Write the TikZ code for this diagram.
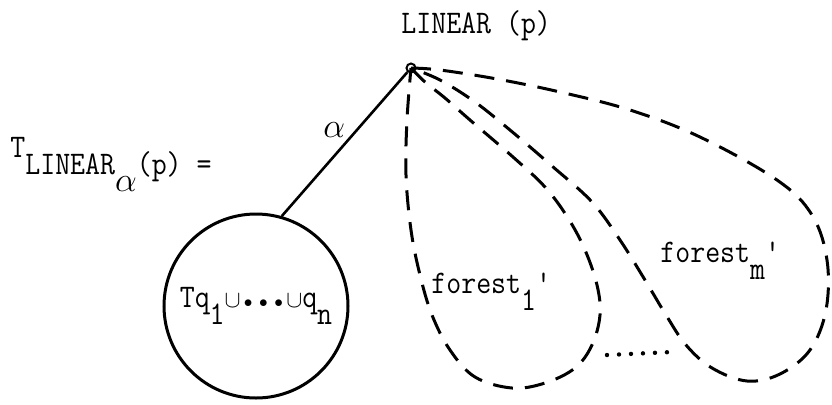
\documentclass[tikz,border=0pt]{standalone}
\usepackage{fontspec}
\setmonofont[FakeStretch=0.88]{Latin Modern Mono}
\usetikzlibrary{positioning}
\newcommand{\lowr}[1]{\raisebox{-8.5pt}{#1}}
\newcommand{\bdot}{\makebox[7.6pt]{\scalebox{0.5}{$\bullet$}}}

\begin{document}
\begin{tikzpicture}[x=0.5pt, y=-0.5pt, font=\fontsize{16.5}{19}\selectfont\ttfamily,
    lobe/.style={dash pattern=on 10pt off 6pt, line width=1.5pt},
    txt/.style={anchor=base west, inner sep=0pt}]
  \useasboundingbox (0,0) rectangle (832,404);
  % root of the tree
  \node[circle, draw, line width=1pt, inner sep=0pt, minimum size=4.5pt] (apex) at (411,68) {};
  \node[txt] (root) at (401,33) {LINEAR (p)};
  % left hand side
  \node[txt] (lhs) at (10,157) {T\lowr{LINEAR\lowr{$\alpha$}(p) =}};
  % first subtree
  \node[circle, draw, line width=1.5pt, minimum size=92pt, inner sep=0pt] (subtree) at (256,306)
    {Tq\lowr{1}$\scriptstyle\cup$\bdot\bdot\bdot$\scriptstyle\cup$q\lowr{n}};
  \draw[line width=1.3pt] (apex) -- node[pos=0.4, left=2pt] {$\alpha$} (subtree.74);
  % forests
  \draw[lobe] plot[smooth, tension=0.6] coordinates {(apex.center) (425,82) (445,98) (470,120)
    (513,157) (545,187) (568,218) (585,250) (597,285) (600,315) (592,345) (575,368) (545,383)
    (512,388) (475,377) (450,350) (432,315) (420,275) (411,230) (406,175) (407,120) (apex.center)};
  \draw[lobe] plot[smooth, tension=0.6] coordinates {(apex.center) (440,70) (497,79) (560,92)
    (630,110) (700,137) (777,180) (812,215) (827,260) (826,310) (810,350) (780,374) (747,381)
    (712,368) (686,345) (666,315) (645,280) (620,240) (592,202) (552,166) (510,130) (475,102)
    (440,80) (apex.center)};
  \node[txt] (forest1) at (431,293) {forest\lowr{1}'};
  \node[txt] (forestm) at (660,262) {forest\lowr{m}'};
  % dots between the forests
  \coordinate (gapL) at (607,355);
  \coordinate (gapR) at (672,352);
  \draw[line width=2.2pt, line cap=round, dash pattern=on 0pt off 6pt] (gapL) -- (gapR);
\end{tikzpicture}
\end{document}
